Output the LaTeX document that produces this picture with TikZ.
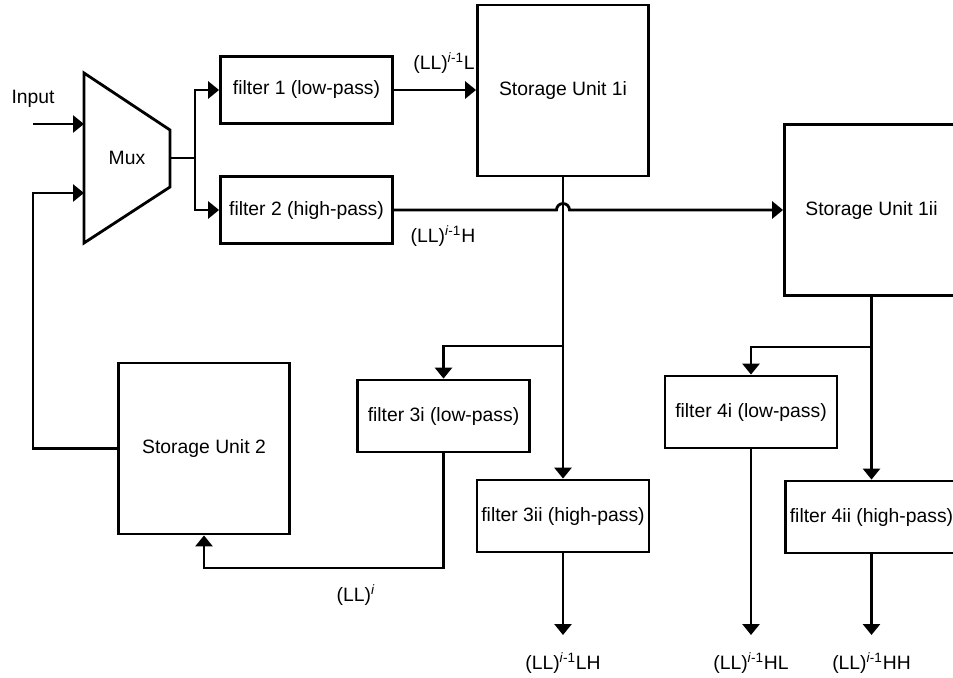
\documentclass[tikz,border=0pt]{standalone}
\usepackage{fontspec}
\setmainfont{Liberation Sans}
\usetikzlibrary{positioning,arrows.meta,calc}
\newcommand{\llsub}[1]{(LL)\textsuperscript{\textit{i}-1}#1}

\begin{document}
\begin{tikzpicture}[
  font=\fontsize{11}{13}\selectfont,
  line width=1.6pt,
  filt/.style={draw, minimum width=34.4mm, minimum height=14.4mm, align=center, inner sep=1pt},
  filttop/.style={filt, minimum height=13.4mm},
  store/.style={draw, minimum width=34.2mm, minimum height=34.2mm, align=center},
  arr/.style={-{Triangle[length=2.2mm, width=3.4mm]}},
  lbl/.style={inner sep=1pt},
]
\useasboundingbox (0,0) rectangle (19.06,-13.54);
\clip (0,0) rectangle (19.06,-13.54);

% --- Mux and input ---
\draw (1.68,-1.46) -- (3.40,-2.60) -- (3.40,-3.74) -- (1.68,-4.86) -- cycle;
\node (mux) at (2.54,-3.16) {Mux};
\coordinate (mux-in1) at (1.68,-2.48);
\coordinate (mux-in2) at (1.68,-3.86);
\coordinate (mux-out) at (3.40,-3.16);
\coordinate (split) at (3.90,-3.16);

\node[lbl] (input) at (0.66,-1.98) {Input};
\coordinate (in-start) at (0.66,-2.48);
\draw[arr] (in-start) -- (mux-in1);

% --- First stage filters ---
\node[filttop] (f1) at (6.13,-1.80) {filter 1 (low-pass)};
\node[filttop] (f2) at (6.13,-4.20) {filter 2 (high-pass)};
\draw (mux-out) -- (split);
\draw[arr] (split) |- (f1.west);
\draw[arr] (split) |- (f2.west);

% --- Storage units 1i / 1ii ---
\node[store] (su1i) at (11.26,-1.81) {Storage Unit 1i};
\node[store, minimum width=34.8mm] (su1ii) at (17.43,-4.20) {Storage Unit 1ii};

\draw[arr] (f1.east) -- (f1.east -| su1i.west);
\node[lbl] (lab-l) at (8.88,-1.26) {\llsub{L}};

\draw[arr] (f2.east) -- ($(f2.east -| su1i.south)+(-0.13,0)$)
  arc[start angle=180, end angle=0, radius=1.3mm] -- (f2.east -| su1ii.west);
\node[lbl] (lab-h) at (8.86,-4.72) {\llsub{H}};

% --- Second stage, branch of 1i ---
\coordinate (br3) at (11.26,-6.92);
\node[filt] (f3i) at (8.87,-8.32) {filter 3i (low-pass)};
\node[filt] (f3ii) at (11.26,-10.32) {filter 3ii (high-pass)};
\draw[arr] (su1i.south) -- (f3ii.north);
\draw[arr] (br3) -| (f3i.north);

% --- Storage unit 2 and feedback ---
\node[store] (su2) at (4.08,-8.97) {Storage Unit 2};
\coordinate (fb) at (8.87,-11.36);
\draw[arr] (f3i.south) -- (fb) -| (su2.south);
\node[lbl] (lab-ll) at (7.12,-11.90) {(LL)\textsuperscript{\textit{i}}};
\coordinate (fb2) at (0.66,-8.97);
\draw[arr] (su2.west) -- (fb2) |- (mux-in2);

% --- Second stage, branch of 1ii ---
\coordinate (br4) at (17.43,-6.94);
\node[filt] (f4i) at (15.02,-8.24) {filter 4i (low-pass)};
\node[filt] (f4ii) at (17.43,-10.34) {filter 4ii (high-pass)};
\draw[arr] (su1ii.south) -- (f4ii.north);
\draw[arr] (br4) -| (f4i.north);

% --- Outputs ---
\node[lbl] (out-lh) at (11.26,-13.26) {\llsub{LH}};
\node[lbl] (out-hl) at (15.02,-13.26) {\llsub{HL}};
\node[lbl] (out-hh) at (17.43,-13.26) {\llsub{HH}};
\coordinate (end-lh) at (11.26,-12.70);
\coordinate (end-hl) at (15.02,-12.70);
\coordinate (end-hh) at (17.43,-12.70);
\draw[arr] (f3ii.south) -- (end-lh);
\draw[arr] (f4i.south) -- (end-hl);
\draw[arr] (f4ii.south) -- (end-hh);
\end{tikzpicture}
\end{document}
